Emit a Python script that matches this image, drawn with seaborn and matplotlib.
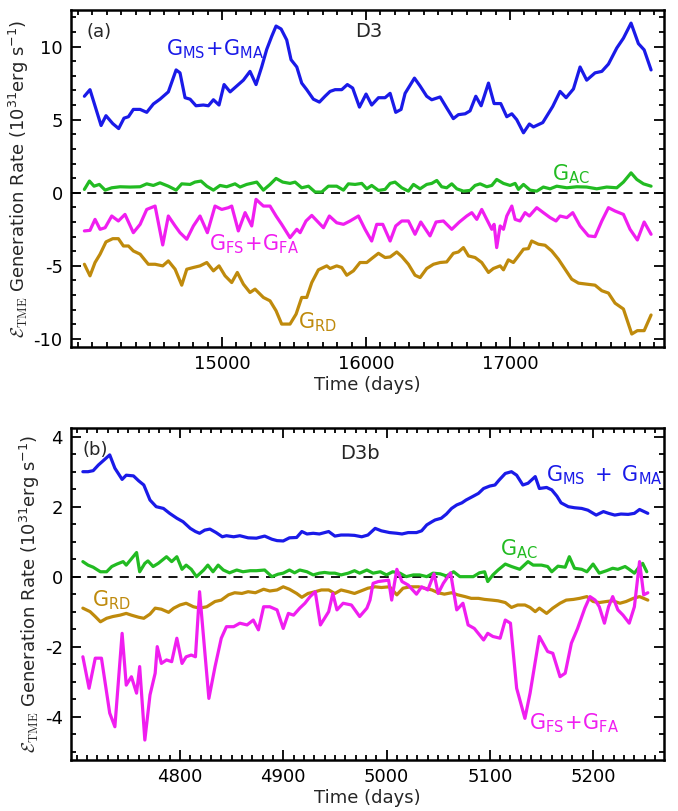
import numpy as np
import pandas as pd
import matplotlib
matplotlib.use("Agg")
import matplotlib.pyplot as plt
from matplotlib.ticker import MultipleLocator, FixedLocator
import seaborn as sns

# ---------------- Panel (a) D3 ----------------
a_ms_t = [14044, 14083, 14160, 14194, 14241, 14282, 14319, 14350, 14384, 14431, 14477, 14523, 14569, 14627,
          14681, 14708, 14743, 14778, 14819, 14870, 14905, 14940, 14979, 15014, 15056, 15102, 15148, 15194,
          15236, 15275, 15310, 15345, 15375, 15410, 15449, 15479, 15519, 15553, 15588, 15634, 15676, 15715,
          15750, 15785, 15831, 15870, 15907, 15954, 16000, 16039, 16086, 16132, 16167, 16206, 16243, 16271,
          16336, 16375, 16421, 16456, 16514, 16560, 16606, 16641, 16688, 16722, 16762, 16799, 16850, 16889,
          16935, 16977, 17012, 17046, 17093, 17134, 17162, 17227, 17296, 17347, 17389, 17440, 17486, 17532,
          17590, 17637, 17683, 17741, 17787, 17840, 17891, 17931, 17979]
a_ms_v = [6.6, 7.05, 4.6, 5.27, 4.73, 4.39, 5.1, 5.2, 5.7, 5.7, 5.5, 6.07, 6.4, 6.9,
          8.4, 8.2, 6.5, 6.4, 5.95, 6.0, 5.95, 6.36, 6.0, 7.4, 6.9, 7.3, 7.7, 8.3,
          7.4, 8.6, 9.8, 10.7, 11.4, 11.2, 10.45, 9.1, 8.6, 7.5, 7.05, 6.4, 6.2, 6.6,
          6.93, 7.05, 7.05, 7.4, 7.16, 5.86, 6.75, 6.0, 6.5, 6.5, 6.8, 5.5, 5.7, 6.8,
          7.84, 7.3, 6.6, 6.36, 6.55, 5.8, 5.07, 5.34, 5.4, 5.6, 6.6, 5.95, 7.5, 6.1,
          6.1, 5.2, 5.4, 5.0, 4.1, 4.7, 4.5, 4.8, 5.9, 6.93, 6.5, 7.1, 8.6, 7.7,
          8.2, 8.3, 8.8, 9.9, 10.57, 11.6, 10.2, 9.77, 8.4]

a_ac_t = [14044, 14079, 14111, 14148, 14188, 14234, 14292, 14361, 14431, 14477, 14523, 14569, 14627, 14681,
          14720, 14778, 14812, 14854, 14894, 14940, 14986, 15032, 15090, 15125, 15171, 15241, 15287, 15333,
          15375, 15421, 15472, 15507, 15553, 15600, 15646, 15692, 15738, 15796, 15843, 15877, 15924, 15970,
          16005, 16039, 16086, 16132, 16167, 16201, 16248, 16294, 16329, 16375, 16421, 16456, 16491, 16525,
          16560, 16595, 16630, 16676, 16722, 16757, 16792, 16838, 16873, 16907, 16954, 17000, 17035, 17058,
          17093, 17139, 17185, 17231, 17278, 17324, 17394, 17463, 17532, 17602, 17671, 17741, 17787, 17840,
          17880, 17926, 17979]
a_ac_v = [0.23, 0.80, 0.45, 0.57, 0.18, 0.34, 0.41, 0.39, 0.41, 0.61, 0.50, 0.68, 0.45, 0.18,
          0.61, 0.57, 0.73, 0.80, 0.45, 0.18, 0.50, 0.41, 0.61, 0.39, 0.57, 0.73, 0.18, 0.57,
          0.98, 0.73, 0.64, 0.73, 0.34, 0.45, 0.05, 0.05, 0.45, 0.45, 0.18, 0.61, 0.57, 0.64,
          0.27, 0.50, 0.16, 0.23, 0.64, 0.73, 0.34, 0.11, 0.57, 0.27, 0.57, 0.64, 0.84, 0.41,
          0.34, 0.61, 0.27, 0.11, 0.16, 0.50, 0.61, 0.41, 0.50, 0.91, 0.64, 0.50, 0.64, 0.23,
          0.57, 0.18, 0.11, 0.39, 0.27, 0.45, 0.34, 0.41, 0.39, 0.27, 0.39, 0.34, 0.73, 1.36,
          0.91, 0.61, 0.45]

a_fs_t = [14044, 14083, 14118, 14153, 14188, 14234, 14280, 14326, 14384, 14431, 14477, 14535, 14588, 14627,
          14674, 14708, 14755, 14801, 14847, 14898, 14951, 14998, 15044, 15067, 15113, 15160, 15206, 15236,
          15287, 15333, 15375, 15414, 15472, 15519, 15542, 15583, 15623, 15704, 15745, 15796, 15843, 15889,
          15947, 15993, 16039, 16074, 16116, 16167, 16206, 16248, 16294, 16340, 16380, 16444, 16486, 16537,
          16595, 16648, 16699, 16734, 16769, 16803, 16838, 16873, 16889, 16907, 16931, 16954, 16977, 17012,
          17035, 17069, 17104, 17134, 17185, 17231, 17278, 17319, 17347, 17394, 17435, 17486, 17544, 17590,
          17637, 17683, 17729, 17787, 17833, 17884, 17931, 17979]
a_fs_v = [-2.61, -2.57, -1.82, -2.50, -2.39, -1.59, -1.93, -1.48, -2.73, -2.16, -1.14, -0.91, -3.57, -1.59,
          -2.27, -2.73, -3.18, -2.27, -1.59, -2.73, -0.91, -1.14, -1.02, -0.91, -2.61, -1.36, -2.27, -0.45,
          -0.91, -0.91, -1.59, -2.16, -3.07, -2.50, -2.73, -1.93, -1.55, -2.39, -1.59, -2.05, -2.16, -1.93,
          -1.59, -2.50, -3.30, -2.16, -2.16, -3.30, -2.27, -1.93, -1.93, -2.84, -2.00, -2.95, -2.00, -1.93,
          -2.50, -2.00, -1.59, -1.36, -1.82, -1.14, -1.82, -2.50, -2.16, -3.75, -2.27, -2.50, -1.59, -0.91,
          -1.82, -1.93, -1.36, -1.59, -1.02, -1.36, -1.70, -1.93, -1.59, -1.70, -1.36, -2.27, -2.95, -3.00,
          -1.93, -1.02, -1.25, -1.48, -2.50, -3.23, -2.00, -2.84]

a_rd_t = [14044, 14083, 14118, 14153, 14194, 14241, 14280, 14315, 14350, 14384, 14431, 14488, 14535, 14588,
          14627, 14674, 14720, 14755, 14801, 14847, 14894, 14940, 14979, 15021, 15067, 15106, 15148, 15194,
          15229, 15287, 15333, 15375, 15414, 15472, 15514, 15553, 15588, 15623, 15669, 15727, 15750, 15796,
          15831, 15866, 15912, 15958, 16005, 16039, 16086, 16132, 16167, 16213, 16248, 16294, 16340, 16375,
          16421, 16468, 16514, 16560, 16606, 16641, 16676, 16711, 16757, 16803, 16850, 16884, 16931, 16954,
          16988, 17023, 17058, 17093, 17127, 17150, 17197, 17243, 17289, 17336, 17382, 17428, 17475, 17532,
          17590, 17637, 17683, 17729, 17787, 17845, 17884, 17931, 17979]
a_rd_v = [-4.89, -5.68, -4.77, -4.20, -3.36, -3.14, -3.14, -3.64, -3.64, -3.98, -4.20, -4.89, -4.89, -5.00,
          -4.66, -5.23, -6.32, -5.23, -5.11, -5.00, -4.77, -5.34, -5.00, -5.68, -6.14, -5.45, -6.25, -6.82,
          -6.59, -7.16, -7.39, -8.07, -8.98, -8.98, -8.30, -7.16, -7.16, -6.14, -5.27, -5.00, -5.18, -5.00,
          -5.11, -5.64, -5.34, -4.77, -4.77, -4.50, -4.14, -4.43, -4.39, -4.05, -4.36, -4.89, -5.64, -5.80,
          -5.18, -4.89, -4.77, -4.73, -4.14, -4.05, -3.75, -4.32, -4.43, -4.77, -5.45, -5.18, -5.00, -5.27,
          -4.59, -4.77, -4.32, -3.86, -3.82, -3.30, -3.52, -3.59, -3.98, -4.55, -5.23, -5.91, -6.18, -6.25,
          -6.32, -6.70, -6.86, -7.55, -7.95, -9.66, -9.43, -9.43, -8.36]

a_xticks = [15000, 16000, 17000]
a_yticks = [-10, -5, 0, 5, 10]

# ---------------- Panel (b) D3b ----------------
b_ms_t = [4706, 4711, 4716, 4721, 4732, 4737, 4744, 4748, 4755, 4760, 4765, 4771, 4777, 4784, 4790, 4797,
          4803, 4810, 4815, 4819, 4824, 4829, 4835, 4841, 4845, 4852, 4858, 4866, 4874, 4882, 4889, 4894,
          4900, 4906, 4913, 4918, 4923, 4929, 4935, 4944, 4950, 4956, 4963, 4969, 4976, 4982, 4989, 4995,
          5003, 5010, 5015, 5021, 5029, 5034, 5039, 5044, 5047, 5053, 5058, 5063, 5068, 5073, 5077, 5084,
          5089, 5094, 5100, 5105, 5109, 5115, 5121, 5126, 5132, 5137, 5144, 5148, 5155, 5160, 5165, 5169,
          5176, 5182, 5189, 5195, 5203, 5210, 5215, 5221, 5227, 5234, 5240, 5245, 5253]
b_ms_v = [3.00, 3.00, 3.03, 3.19, 3.48, 3.10, 2.78, 2.90, 2.88, 2.74, 2.62, 2.19, 2.00, 1.95, 1.81, 1.67,
          1.57, 1.38, 1.29, 1.24, 1.33, 1.36, 1.26, 1.14, 1.17, 1.14, 1.17, 1.11, 1.10, 1.16, 1.07, 1.03,
          1.02, 1.11, 1.12, 1.29, 1.22, 1.24, 1.22, 1.29, 1.16, 1.19, 1.19, 1.18, 1.14, 1.19, 1.38, 1.31,
          1.26, 1.24, 1.22, 1.26, 1.26, 1.31, 1.48, 1.57, 1.62, 1.67, 1.79, 1.95, 2.05, 2.11, 2.19, 2.30,
          2.38, 2.52, 2.59, 2.62, 2.76, 2.95, 3.00, 2.90, 2.62, 2.67, 2.86, 2.52, 2.55, 2.48, 2.30, 2.11,
          2.00, 1.97, 1.95, 1.90, 1.76, 1.86, 1.81, 1.76, 1.79, 1.78, 1.81, 1.92, 1.81]

b_ac_t = [4706, 4711, 4716, 4723, 4729, 4734, 4739, 4745, 4748, 4758, 4761, 4766, 4769, 4774, 4779, 4787,
          4792, 4797, 4802, 4806, 4811, 4816, 4823, 4827, 4832, 4837, 4842, 4848, 4855, 4861, 4868, 4874,
          4882, 4889, 4895, 4900, 4906, 4911, 4916, 4923, 4929, 4935, 4940, 4945, 4950, 4956, 4963, 4969,
          4974, 4981, 4987, 4994, 5000, 5006, 5013, 5019, 5026, 5032, 5039, 5045, 5052, 5058, 5065, 5071,
          5077, 5084, 5090, 5095, 5098, 5103, 5108, 5115, 5121, 5129, 5137, 5142, 5150, 5156, 5160, 5166,
          5173, 5177, 5182, 5189, 5194, 5200, 5206, 5213, 5219, 5224, 5231, 5235, 5240, 5245, 5248, 5252]
b_ac_v = [0.43, 0.33, 0.27, 0.14, 0.14, 0.29, 0.36, 0.43, 0.33, 0.69, 0.14, 0.38, 0.45, 0.29, 0.38, 0.57,
          0.43, 0.57, 0.21, 0.33, 0.21, 0.00, 0.19, 0.33, 0.14, 0.33, 0.19, 0.11, 0.19, 0.14, 0.17, 0.17,
          0.19, 0.00, 0.07, 0.10, 0.19, 0.11, 0.19, 0.14, 0.05, 0.10, 0.12, 0.10, 0.10, 0.05, 0.10, 0.17,
          0.10, 0.19, 0.10, 0.14, 0.05, 0.14, 0.10, 0.00, 0.05, 0.05, 0.00, 0.10, 0.08, 0.02, 0.14, 0.00,
          0.00, 0.00, 0.11, 0.14, -0.14, 0.05, 0.19, 0.36, 0.29, 0.21, 0.43, 0.33, 0.33, 0.29, 0.14, 0.30,
          0.27, 0.57, 0.24, 0.21, 0.14, 0.36, 0.10, 0.17, 0.24, 0.21, 0.29, 0.21, 0.10, 0.29, 0.38, 0.14]

b_rd_t = [4706, 4713, 4718, 4723, 4729, 4735, 4742, 4748, 4753, 4760, 4765, 4771, 4776, 4782, 4789, 4794,
          4800, 4806, 4813, 4819, 4826, 4834, 4840, 4847, 4853, 4860, 4866, 4873, 4881, 4887, 4894, 4900,
          4906, 4913, 4918, 4924, 4931, 4937, 4944, 4950, 4956, 4963, 4969, 4976, 4982, 4989, 4995, 5003,
          5010, 5016, 5023, 5031, 5037, 5044, 5050, 5056, 5063, 5069, 5076, 5082, 5089, 5095, 5102, 5108,
          5115, 5121, 5127, 5134, 5139, 5144, 5148, 5155, 5161, 5168, 5174, 5181, 5187, 5194, 5200, 5206,
          5213, 5219, 5226, 5232, 5239, 5245, 5253]
b_rd_v = [-0.90, -1.00, -1.14, -1.29, -1.19, -1.14, -1.10, -1.05, -1.10, -1.16, -1.19, -1.07, -0.90, -0.93,
          -1.02, -0.90, -0.81, -0.76, -0.86, -0.90, -0.86, -0.71, -0.67, -0.52, -0.46, -0.48, -0.43, -0.46,
          -0.36, -0.41, -0.38, -0.29, -0.36, -0.48, -0.59, -0.48, -0.43, -0.38, -0.38, -0.48, -0.38, -0.43,
          -0.48, -0.40, -0.33, -0.29, -0.31, -0.29, -0.52, -0.33, -0.29, -0.29, -0.33, -0.38, -0.46, -0.50,
          -0.46, -0.52, -0.57, -0.62, -0.62, -0.65, -0.67, -0.69, -0.74, -0.88, -0.81, -0.81, -0.88, -1.00,
          -0.90, -1.05, -0.90, -0.76, -0.67, -0.65, -0.62, -0.57, -0.71, -0.74, -0.71, -0.69, -0.76, -0.71,
          -0.62, -0.57, -0.67]

b_fs_t = [4706, 4712, 4718, 4724, 4732, 4737, 4744, 4748, 4753, 4758, 4761, 4766, 4771, 4776, 4778, 4782,
          4787, 4792, 4797, 4802, 4806, 4811, 4815, 4819, 4828, 4834, 4840, 4845, 4852, 4858, 4865, 4871,
          4876, 4881, 4887, 4894, 4900, 4905, 4910, 4916, 4921, 4926, 4931, 4936, 4944, 4948, 4952, 4958,
          4966, 4974, 4981, 4984, 4987, 4992, 4997, 5002, 5005, 5010, 5015, 5021, 5029, 5034, 5040, 5046,
          5050, 5055, 5062, 5068, 5074, 5079, 5085, 5094, 5098, 5103, 5110, 5115, 5120, 5126, 5134, 5139,
          5148, 5156, 5161, 5168, 5173, 5179, 5185, 5192, 5197, 5202, 5206, 5211, 5215, 5219, 5224, 5229,
          5235, 5240, 5245, 5249, 5253]
b_fs_v = [-2.29, -3.19, -2.33, -2.33, -3.90, -4.29, -1.62, -3.10, -2.86, -3.33, -2.57, -4.67, -3.38, -2.76,
          -2.00, -2.48, -2.38, -2.43, -1.76, -2.48, -2.29, -2.24, -2.29, -0.43, -3.48, -2.57, -1.76, -1.43,
          -1.43, -1.33, -1.38, -1.24, -1.52, -0.86, -0.86, -0.95, -1.48, -1.05, -1.10, -0.90, -0.76, -0.57,
          -0.43, -1.38, -1.00, -0.48, -0.95, -0.76, -0.81, -1.14, -0.90, -0.67, -0.19, -0.14, -0.12, -0.10,
          -0.67, 0.21, -0.14, -0.24, -0.50, -0.29, -0.38, 0.08, -0.48, -0.19, 0.11, -0.95, -0.76, -1.38,
          -1.48, -1.81, -1.62, -1.71, -1.76, -1.24, -1.33, -3.19, -4.05, -3.33, -1.71, -2.14, -2.19, -2.86,
          -2.76, -1.90, -1.48, -0.90, -0.57, -0.67, -0.86, -1.33, -0.86, -0.57, -0.95, -1.10, -1.33, -0.86,
          0.43, -0.52, -0.46]

b_xticks = [4800, 4900, 5000, 5100, 5200]
b_yticks = [-4, -2, 0, 2, 4]

# ---------------- style ----------------
sns.set_theme(style="ticks")
plt.rcParams['font.family'] = ['DejaVu Sans']
plt.rcParams['mathtext.fontset'] = 'cm'
plt.rcParams['axes.unicode_minus'] = False

C_MS = "#1a1ae8"
C_AC = "#22bb22"
C_FS = "#f01ef0"
C_RD = "#bf8a0c"
LW = 2.3
FS = 13
GFS = 15

fig = plt.figure(figsize=(6.78, 8.11), dpi=100)
ax1 = fig.add_axes([0.1047, 0.5721, 0.8747, 0.4156])
ax2 = fig.add_axes([0.1047, 0.0629, 0.8747, 0.4094])

ylab = (r"$\mathcal{E}_{\rm TME}$ Generation Rate (10$\mathregular{^{31}}$erg s$\mathregular{^{-1}}$)")


def draw(ax, series):
    for t, v, c in series:
        df = pd.DataFrame({"t": t, "v": v})
        sns.lineplot(data=df, x="t", y="v", ax=ax, color=c, lw=LW, estimator=None, sort=False)
    ax.axhline(0, color="black", lw=1.3, ls=(0, (5, 4)), zorder=0.5)


def style(ax, xlim, ylim, xticks, xmin, yticks, ymin):
    ax.set_xlim(*xlim)
    ax.set_ylim(*ylim)
    ax.xaxis.set_major_locator(FixedLocator(xticks))
    ax.xaxis.set_minor_locator(MultipleLocator(xmin))
    ax.yaxis.set_major_locator(FixedLocator(yticks))
    ax.yaxis.set_minor_locator(MultipleLocator(ymin))
    ax.tick_params(which="both", direction="in", top=True, right=True, colors="black",
                   labelsize=FS, width=1.3)
    ax.tick_params(which="major", length=7, pad=6)
    ax.tick_params(which="minor", length=3.5)
    for s in ax.spines.values():
        s.set_linewidth(1.8)
        s.set_color("black")
    ax.set_xlabel("Time (days)", fontsize=FS, labelpad=2)
    ax.set_ylabel(ylab, fontsize=FS, labelpad=2)


draw(ax1, [(a_ms_t, a_ms_v, C_MS), (a_ac_t, a_ac_v, C_AC), (a_fs_t, a_fs_v, C_FS), (a_rd_t, a_rd_v, C_RD)])
style(ax1, (13951, 18069), (-10.55, 12.5), a_xticks, 100, a_yticks, 1)

ax1.text(14060, 11.0, "(a)", fontsize=FS, ha="left", va="center")
ax1.text(16021, 11.05, "D3", fontsize=FS + 1, ha="center", va="center")
ax1.text(14955, 9.8, r"$\mathregular{G_{MS}\!+\!G_{MA}}$", color=C_MS, fontsize=GFS, ha="center", va="center")
ax1.text(17420, 1.3, r"$\mathregular{G_{AC}}$", color=C_AC, fontsize=GFS, ha="center", va="center")
ax1.text(15220, -3.5, r"$\mathregular{G_{FS}\!+\!G_{FA}}$", color=C_FS, fontsize=GFS, ha="center", va="center")
ax1.text(15665, -8.85, r"$\mathregular{G_{RD}}$", color=C_RD, fontsize=GFS, ha="center", va="center")

draw(ax2, [(b_ms_t, b_ms_v, C_MS), (b_ac_t, b_ac_v, C_AC), (b_rd_t, b_rd_v, C_RD), (b_fs_t, b_fs_v, C_FS)])
style(ax2, (4694.5, 5268.7), (-5.24, 4.25), b_xticks, 10, b_yticks, 0.5)

ax2.text(4706, 3.62, "(b)", fontsize=FS, ha="left", va="center")
ax2.text(4974.5, 3.53, "D3b", fontsize=FS + 1, ha="center", va="center")
ax2.text(5211, 2.9, r"$\mathregular{G_{MS}\ +\ G_{MA}}$", color=C_MS, fontsize=GFS, ha="center", va="center")
ax2.text(5128.5, 0.79, r"$\mathregular{G_{AC}}$", color=C_AC, fontsize=GFS, ha="center", va="center")
ax2.text(4734, -0.67, r"$\mathregular{G_{RD}}$", color=C_RD, fontsize=GFS, ha="center", va="center")
ax2.text(5182, -4.18, r"$\mathregular{G_{FS}\!+\!G_{FA}}$", color=C_FS, fontsize=GFS, ha="center", va="center")

fig.savefig("out.png", dpi=100)
